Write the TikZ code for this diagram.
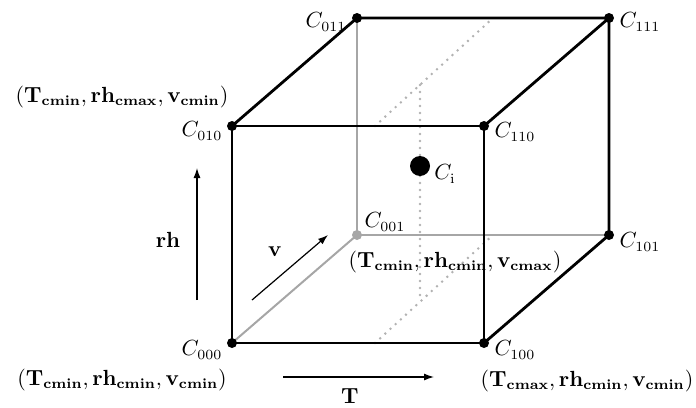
\documentclass[tikz,border=0pt]{standalone}
\usetikzlibrary{arrows.meta}
\begin{document}
\begin{tikzpicture}[x=0.5pt,y=-0.5pt,
  edge/.style={line width=1.4pt,black},
  hidden/.style={line width=1pt,black!35},
  dotline/.style={line width=1.4pt,black!30,dash pattern=on 0pt off 3.5pt,line cap=round},
  corner/.style={circle,fill=black,inner sep=0pt,minimum size=5pt},
  axis/.style={line width=0.6pt,-{Latex[length=5pt,width=3.5pt]}},
  lbl/.style={inner sep=0pt,font=\fontsize{10.5pt}{12pt}\selectfont}]
\useasboundingbox (0,0) rectangle (696,407);
% corners
\coordinate (c000) at (232,343);
\coordinate (c100) at (484,343);
\coordinate (c010) at (232,126);
\coordinate (c110) at (484,126);
\coordinate (c001) at (357,235);
\coordinate (c101) at (609,235);
\coordinate (c011) at (357,18);
\coordinate (c111) at (609,18);
% dotted plane
\coordinate (p1) at (375,126);
\coordinate (p2) at (493,18);
\coordinate (p3) at (493,235);
\coordinate (p4) at (375,343);
\coordinate (q1) at (420,85);
\coordinate (q2) at (420,302);
\draw[dotline] (p1) -- (p2);
\draw[dotline] (p4) -- (p3);
\draw[dotline] (q1) -- (q2);
% hidden edges
\draw[hidden] (c000) -- (c001);
\draw[hidden] (c001) -- (c011);
\draw[hidden] (c001) -- (c101);
% visible edges
\draw[edge] (c000) -- (c100) -- (c110) -- (c010) -- cycle;
\draw[edge] (c010) -- (c011) -- (c111) -- (c110);
\draw[edge] (c111) -- (c101) -- (c100);
% dots
\node[corner] (d000) at (c000) {};
\node[corner] (d100) at (c100) {};
\node[corner] (d010) at (c010) {};
\node[corner] (d110) at (c110) {};
\node[corner,fill=black!35] (d001) at (c001) {};
\node[corner] (d101) at (c101) {};
\node[corner] (d011) at (c011) {};
\node[corner] (d111) at (c111) {};
\node[circle,fill=black,inner sep=0pt,minimum size=10pt] (ci) at (420,166) {};
% corner labels
\node[lbl] (l011) at (326,22) {$C_{011}$};
\node[lbl] (l111) at (640,22) {$C_{111}$};
\node[lbl] (l010) at (202,131) {$C_{010}$};
\node[lbl] (l110) at (515,132) {$C_{110}$};
\node[lbl] (lci) at (445,174) {$C_{\mathrm{i}}$};
\node[lbl] (l001) at (385,222) {$C_{001}$};
\node[lbl] (l101) at (640,242) {$C_{101}$};
\node[lbl] (l000) at (202,350) {$C_{000}$};
\node[lbl] (l100) at (515,350) {$C_{100}$};
% coordinate labels
\node[lbl] (t1) at (122,97) {$(\mathbf{T_{cmin}},\mathbf{rh_{cmax}},\mathbf{v_{cmin}})$};
\node[lbl] (t2) at (455,262) {$(\mathbf{T_{cmin}},\mathbf{rh_{cmin}},\mathbf{v_{cmax}})$};
\node[lbl] (t3) at (122,380) {$(\mathbf{T_{cmin}},\mathbf{rh_{cmin}},\mathbf{v_{cmin}})$};
\node[lbl] (t4) at (587,381) {$(\mathbf{T_{cmax}},\mathbf{rh_{cmin}},\mathbf{v_{cmin}})$};
% axes
\coordinate (rhs) at (197,300);
\coordinate (rhe) at (197,168);
\draw[axis] (rhs) -- (rhe);
\node[lbl] (rhl) at (168,240) {$\mathbf{rh}$};
\coordinate (vs) at (252,300);
\coordinate (ve) at (328,235);
\draw[axis] (vs) -- (ve);
\node[lbl] (vl) at (275,252) {$\mathbf{v}$};
\coordinate (ts) at (283,377);
\coordinate (te) at (434,377);
\draw[axis] (ts) -- (te);
\node[lbl] (tl) at (350,396) {$\mathbf{T}$};
\end{tikzpicture}
\end{document}
